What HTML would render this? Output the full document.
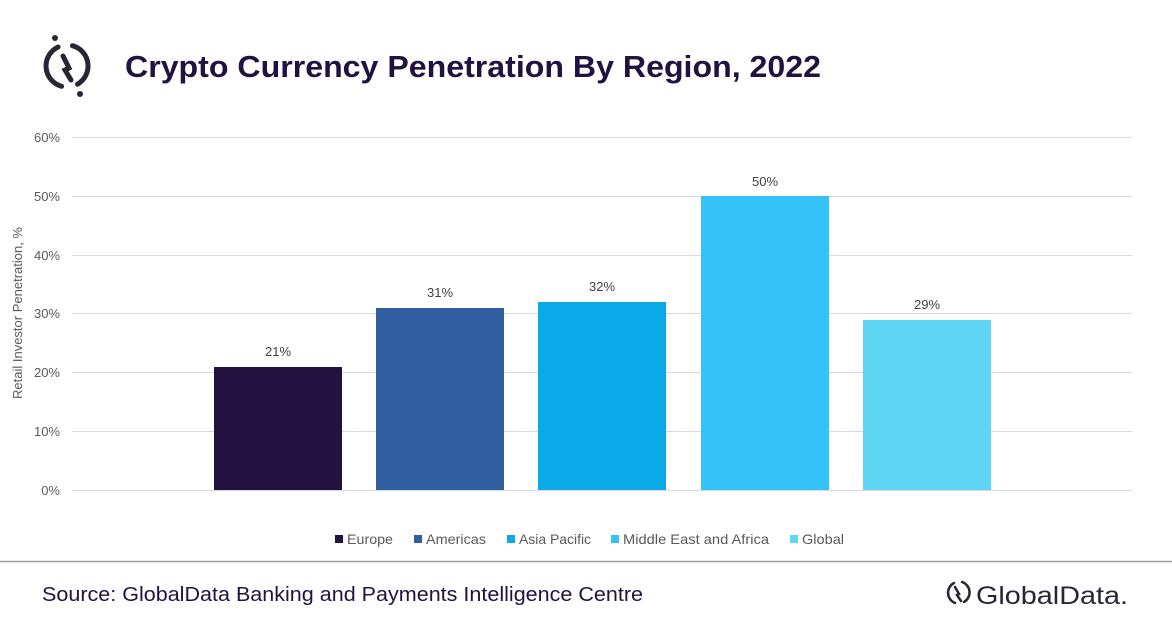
<!DOCTYPE html>
<html><head><style>
body{margin:0;width:1172px;height:628px;background:#fff;font-family:"Liberation Sans",sans-serif;position:relative;overflow:hidden}
.a{position:absolute}
</style></head><body>
<svg class="a" style="left:0;top:0" width="1172" height="628">
<g fill="none" stroke="#2a2535" stroke-width="5" stroke-linecap="round">
<path d="M58.1 47 A21 21 0 0 0 61.6 86.3"/><path d="M72.4 45.7 A21 21 0 0 1 77.5 84.2"/>
<path d="M63 56 L69 68 L65 70 L71 80"/>
</g>
<circle cx="55" cy="38" r="3" fill="#2a2535"/><circle cx="80" cy="94" r="3" fill="#2a2535"/>
<text x="125" y="77" font-size="31" font-weight="bold" fill="#21123f" textLength="696" lengthAdjust="spacingAndGlyphs" font-family="Liberation Sans, sans-serif">Crypto Currency Penetration By Region, 2022</text>
<g stroke="#d9d9d9" stroke-width="1">
<line x1="72" x2="1132" y1="137.5" y2="137.5"/><line x1="72" x2="1132" y1="196.5" y2="196.5"/>
<line x1="72" x2="1132" y1="255.5" y2="255.5"/><line x1="72" x2="1132" y1="313.5" y2="313.5"/>
<line x1="72" x2="1132" y1="372.5" y2="372.5"/><line x1="72" x2="1132" y1="431.5" y2="431.5"/>
<line x1="72" x2="1132" y1="490.5" y2="490.5"/>
</g>
<g font-size="13" fill="#595959" text-anchor="end" font-family="Liberation Sans, sans-serif">
<text x="60" y="142">60%</text><text x="60" y="201">50%</text><text x="60" y="260">40%</text>
<text x="60" y="318">30%</text><text x="60" y="377">20%</text><text x="60" y="436">10%</text><text x="60" y="495">0%</text>
</g>
<text transform="translate(22,313) rotate(-90)" font-size="13" fill="#595959" text-anchor="middle" font-family="Liberation Sans, sans-serif">Retail Investor Penetration, %</text>
<rect x="214" y="367" width="128" height="123" fill="#211240"/>
<rect x="376" y="308" width="128" height="182" fill="#305ea0"/>
<rect x="538" y="302" width="128" height="188" fill="#0aa9e8"/>
<rect x="701" y="196" width="128" height="294" fill="#35c2f8"/>
<rect x="863" y="320" width="128" height="170" fill="#5dd5f3"/>
<g font-size="13" fill="#404040" text-anchor="middle" font-family="Liberation Sans, sans-serif">
<text x="278" y="356">21%</text><text x="440" y="297">31%</text><text x="602" y="291">32%</text>
<text x="765" y="186">50%</text><text x="927" y="309">29%</text>
</g>
<g font-size="14" fill="#595959" font-family="Liberation Sans, sans-serif">
<rect x="335" y="535" width="8" height="8" fill="#211240"/><text x="347" y="544" textLength="46" lengthAdjust="spacingAndGlyphs">Europe</text>
<rect x="414" y="535" width="8" height="8" fill="#305ea0"/><text x="426" y="544" textLength="60" lengthAdjust="spacingAndGlyphs">Americas</text>
<rect x="507" y="535" width="8" height="8" fill="#0aa9e8"/><text x="519" y="544" textLength="72" lengthAdjust="spacingAndGlyphs">Asia Pacific</text>
<rect x="611" y="535" width="8" height="8" fill="#35c2f8"/><text x="623" y="544" textLength="146" lengthAdjust="spacingAndGlyphs">Middle East and Africa</text>
<rect x="790" y="535" width="8" height="8" fill="#5dd5f3"/><text x="802" y="544" textLength="42" lengthAdjust="spacingAndGlyphs">Global</text>
</g>
<line x1="0" x2="1172" y1="561.5" y2="561.5" stroke="#a0a0a0" stroke-width="1.5"/>
<text x="42" y="601" font-size="20" fill="#21123f" textLength="601" lengthAdjust="spacingAndGlyphs" font-family="Liberation Sans, sans-serif">Source: GlobalData Banking and Payments Intelligence Centre</text>
<g fill="none" stroke="#2a2535" stroke-width="2.5" stroke-linecap="round">
<path d="M954 583 A11 11 0 0 0 955 603"/><path d="M962 582 A11 11 0 0 1 964 602"/>
<path d="M955 587 L959 594 L957 595 L961 601"/>
</g>
<text x="976" y="604" font-size="25" fill="#2a2535" font-family="Liberation Sans, sans-serif" textLength="152" lengthAdjust="spacingAndGlyphs">GlobalData.</text>
</svg>
</body></html>
